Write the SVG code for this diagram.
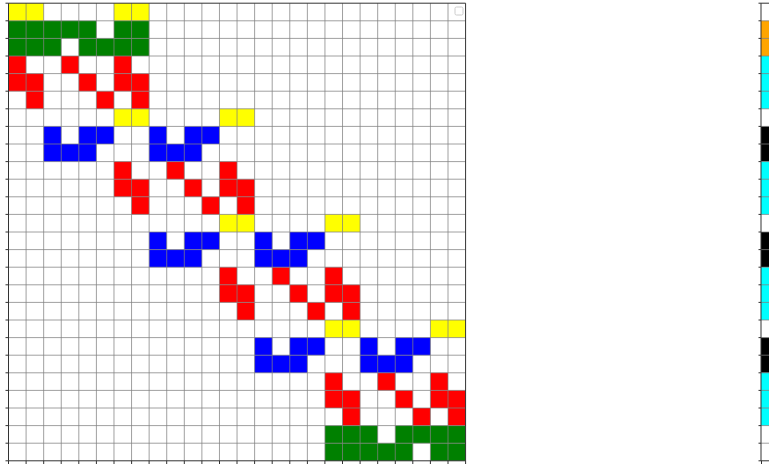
<svg xmlns="http://www.w3.org/2000/svg" width="769" height="467" viewBox="0 0 769 467">
<style>
.y{fill:#ffff00}.g{fill:#008000}.r{fill:#ff0000}.b{fill:#0000ff}.o{fill:#ffa500}.c{fill:#00ffff}.k{fill:#000000}
.grid line{stroke:#808080;stroke-opacity:0.75;stroke-width:1;vector-effect:non-scaling-stroke}
.spine{stroke:#333333;stroke-width:1;fill:none;vector-effect:non-scaling-stroke}
.tick{stroke:#333333;stroke-width:1;vector-effect:non-scaling-stroke}
</style>
<rect width="769" height="467" fill="#ffffff"/>
<g id="board" transform="translate(8.5,3.2) scale(17.58,17.6)">
<g id="cells">
<rect class="y" x="0" y="0" width="2" height="1"/><rect class="y" x="6" y="0" width="2" height="1"/>
<rect class="y" x="6" y="6" width="2" height="1"/><rect class="y" x="12" y="6" width="2" height="1"/>
<rect class="y" x="12" y="12" width="2" height="1"/><rect class="y" x="18" y="12" width="2" height="1"/>
<rect class="y" x="18" y="18" width="2" height="1"/><rect class="y" x="24" y="18" width="2" height="1"/>
<rect class="g" x="0" y="1" width="5" height="1"/><rect class="g" x="6" y="1" width="2" height="1"/>
<rect class="g" x="0" y="2" width="3" height="1"/><rect class="g" x="4" y="2" width="4" height="1"/>
<rect class="g" x="18" y="24" width="3" height="1"/><rect class="g" x="22" y="24" width="4" height="1"/>
<rect class="g" x="18" y="25" width="5" height="1"/><rect class="g" x="24" y="25" width="2" height="1"/>
<g id="red0">
<rect class="r" x="0" y="3" width="1" height="1"/><rect class="r" x="3" y="3" width="1" height="1"/><rect class="r" x="6" y="3" width="1" height="1"/>
<rect class="r" x="0" y="4" width="2" height="1"/><rect class="r" x="4" y="4" width="1" height="1"/><rect class="r" x="6" y="4" width="2" height="1"/>
<rect class="r" x="1" y="5" width="1" height="1"/><rect class="r" x="5" y="5" width="1" height="1"/><rect class="r" x="7" y="5" width="1" height="1"/>
</g>
<g transform="translate(6,6)">
<rect class="r" x="0" y="3" width="1" height="1"/><rect class="r" x="3" y="3" width="1" height="1"/><rect class="r" x="6" y="3" width="1" height="1"/>
<rect class="r" x="0" y="4" width="2" height="1"/><rect class="r" x="4" y="4" width="1" height="1"/><rect class="r" x="6" y="4" width="2" height="1"/>
<rect class="r" x="1" y="5" width="1" height="1"/><rect class="r" x="5" y="5" width="1" height="1"/><rect class="r" x="7" y="5" width="1" height="1"/>
<rect class="b" x="-4" y="1" width="1" height="1"/><rect class="b" x="-2" y="1" width="2" height="1"/><rect class="b" x="2" y="1" width="1" height="1"/><rect class="b" x="4" y="1" width="2" height="1"/>
<rect class="b" x="-4" y="2" width="3" height="1"/><rect class="b" x="2" y="2" width="3" height="1"/>
</g>
<g transform="translate(12,12)">
<rect class="r" x="0" y="3" width="1" height="1"/><rect class="r" x="3" y="3" width="1" height="1"/><rect class="r" x="6" y="3" width="1" height="1"/>
<rect class="r" x="0" y="4" width="2" height="1"/><rect class="r" x="4" y="4" width="1" height="1"/><rect class="r" x="6" y="4" width="2" height="1"/>
<rect class="r" x="1" y="5" width="1" height="1"/><rect class="r" x="5" y="5" width="1" height="1"/><rect class="r" x="7" y="5" width="1" height="1"/>
<rect class="b" x="-4" y="1" width="1" height="1"/><rect class="b" x="-2" y="1" width="2" height="1"/><rect class="b" x="2" y="1" width="1" height="1"/><rect class="b" x="4" y="1" width="2" height="1"/>
<rect class="b" x="-4" y="2" width="3" height="1"/><rect class="b" x="2" y="2" width="3" height="1"/>
</g>
<g transform="translate(18,18)">
<rect class="r" x="0" y="3" width="1" height="1"/><rect class="r" x="3" y="3" width="1" height="1"/><rect class="r" x="6" y="3" width="1" height="1"/>
<rect class="r" x="0" y="4" width="2" height="1"/><rect class="r" x="4" y="4" width="1" height="1"/><rect class="r" x="6" y="4" width="2" height="1"/>
<rect class="r" x="1" y="5" width="1" height="1"/><rect class="r" x="5" y="5" width="1" height="1"/><rect class="r" x="7" y="5" width="1" height="1"/>
<rect class="b" x="-4" y="1" width="1" height="1"/><rect class="b" x="-2" y="1" width="2" height="1"/><rect class="b" x="2" y="1" width="1" height="1"/><rect class="b" x="4" y="1" width="2" height="1"/>
<rect class="b" x="-4" y="2" width="3" height="1"/><rect class="b" x="2" y="2" width="3" height="1"/>
</g>
</g>
<g class="grid">
<line x1="1" y1="0" x2="1" y2="26"/><line x1="2" y1="0" x2="2" y2="26"/><line x1="3" y1="0" x2="3" y2="26"/><line x1="4" y1="0" x2="4" y2="26"/><line x1="5" y1="0" x2="5" y2="26"/><line x1="6" y1="0" x2="6" y2="26"/><line x1="7" y1="0" x2="7" y2="26"/><line x1="8" y1="0" x2="8" y2="26"/><line x1="9" y1="0" x2="9" y2="26"/><line x1="10" y1="0" x2="10" y2="26"/><line x1="11" y1="0" x2="11" y2="26"/><line x1="12" y1="0" x2="12" y2="26"/><line x1="13" y1="0" x2="13" y2="26"/><line x1="14" y1="0" x2="14" y2="26"/><line x1="15" y1="0" x2="15" y2="26"/><line x1="16" y1="0" x2="16" y2="26"/><line x1="17" y1="0" x2="17" y2="26"/><line x1="18" y1="0" x2="18" y2="26"/><line x1="19" y1="0" x2="19" y2="26"/><line x1="20" y1="0" x2="20" y2="26"/><line x1="21" y1="0" x2="21" y2="26"/><line x1="22" y1="0" x2="22" y2="26"/><line x1="23" y1="0" x2="23" y2="26"/><line x1="24" y1="0" x2="24" y2="26"/><line x1="25" y1="0" x2="25" y2="26"/>
<line x1="0" y1="1" x2="26" y2="1"/><line x1="0" y1="2" x2="26" y2="2"/><line x1="0" y1="3" x2="26" y2="3"/><line x1="0" y1="4" x2="26" y2="4"/><line x1="0" y1="5" x2="26" y2="5"/><line x1="0" y1="6" x2="26" y2="6"/><line x1="0" y1="7" x2="26" y2="7"/><line x1="0" y1="8" x2="26" y2="8"/><line x1="0" y1="9" x2="26" y2="9"/><line x1="0" y1="10" x2="26" y2="10"/><line x1="0" y1="11" x2="26" y2="11"/><line x1="0" y1="12" x2="26" y2="12"/><line x1="0" y1="13" x2="26" y2="13"/><line x1="0" y1="14" x2="26" y2="14"/><line x1="0" y1="15" x2="26" y2="15"/><line x1="0" y1="16" x2="26" y2="16"/><line x1="0" y1="17" x2="26" y2="17"/><line x1="0" y1="18" x2="26" y2="18"/><line x1="0" y1="19" x2="26" y2="19"/><line x1="0" y1="20" x2="26" y2="20"/><line x1="0" y1="21" x2="26" y2="21"/><line x1="0" y1="22" x2="26" y2="22"/><line x1="0" y1="23" x2="26" y2="23"/><line x1="0" y1="24" x2="26" y2="24"/><line x1="0" y1="25" x2="26" y2="25"/>
</g>
<rect class="spine" x="0" y="0" width="26" height="26"/>
</g>
<g id="ticks" class="tick">
<path d="M5.5 3.2H8.5M5.5 20.8H8.5M5.5 38.4H8.5M5.5 56H8.5M5.5 73.6H8.5M5.5 91.2H8.5M5.5 108.8H8.5M5.5 126.4H8.5M5.5 144H8.5M5.5 161.6H8.5M5.5 179.2H8.5M5.5 196.8H8.5M5.5 214.4H8.5M5.5 232H8.5M5.5 249.6H8.5M5.5 267.2H8.5M5.5 284.8H8.5M5.5 302.4H8.5M5.5 320H8.5M5.5 337.6H8.5M5.5 355.2H8.5M5.5 372.8H8.5M5.5 390.4H8.5M5.5 408H8.5M5.5 425.6H8.5M5.5 443.2H8.5M5.5 460.8H8.5" stroke="#333"/>
<path d="M8.5 460.8V464M26.1 460.8V464M43.7 460.8V464M61.2 460.8V464M78.8 460.8V464M96.4 460.8V464M114 460.8V464M131.6 460.8V464M149.1 460.8V464M166.7 460.8V464M184.3 460.8V464M201.9 460.8V464M219.5 460.8V464M237 460.8V464M254.6 460.8V464M272.2 460.8V464M289.8 460.8V464M307.4 460.8V464M324.9 460.8V464M342.5 460.8V464M360.1 460.8V464M377.7 460.8V464M395.3 460.8V464M412.8 460.8V464M430.4 460.8V464M448 460.8V464M465.6 460.8V464" stroke="#333"/>
</g>
<rect id="legend" x="455" y="7" width="8" height="8" rx="1.5" fill="#ffffff" stroke="#cccccc" stroke-width="1"/>
<g id="strip" transform="translate(761,3.2) scale(1,17.6)">
<rect class="o" x="0" y="1" width="10" height="2"/>
<rect class="c" x="0" y="3" width="10" height="3"/>
<rect class="k" x="0" y="7" width="10" height="2"/>
<rect class="c" x="0" y="9" width="10" height="3"/>
<rect class="k" x="0" y="13" width="10" height="2"/>
<rect class="c" x="0" y="15" width="10" height="3"/>
<rect class="k" x="0" y="19" width="10" height="2"/>
<rect class="c" x="0" y="21" width="10" height="3"/>
<g class="grid">
<line x1="0" y1="1" x2="10" y2="1"/><line x1="0" y1="2" x2="10" y2="2"/><line x1="0" y1="3" x2="10" y2="3"/><line x1="0" y1="4" x2="10" y2="4"/><line x1="0" y1="5" x2="10" y2="5"/><line x1="0" y1="6" x2="10" y2="6"/><line x1="0" y1="7" x2="10" y2="7"/><line x1="0" y1="8" x2="10" y2="8"/><line x1="0" y1="9" x2="10" y2="9"/><line x1="0" y1="10" x2="10" y2="10"/><line x1="0" y1="11" x2="10" y2="11"/><line x1="0" y1="12" x2="10" y2="12"/><line x1="0" y1="13" x2="10" y2="13"/><line x1="0" y1="14" x2="10" y2="14"/><line x1="0" y1="15" x2="10" y2="15"/><line x1="0" y1="16" x2="10" y2="16"/><line x1="0" y1="17" x2="10" y2="17"/><line x1="0" y1="18" x2="10" y2="18"/><line x1="0" y1="19" x2="10" y2="19"/><line x1="0" y1="20" x2="10" y2="20"/><line x1="0" y1="21" x2="10" y2="21"/><line x1="0" y1="22" x2="10" y2="22"/><line x1="0" y1="23" x2="10" y2="23"/><line x1="0" y1="24" x2="10" y2="24"/><line x1="0" y1="25" x2="10" y2="25"/>
</g>
<path class="spine" d="M10 0H0V26H10"/>
</g>
<path class="tick" d="M758.5 3.2H761M758.5 20.8H761M758.5 38.4H761M758.5 56H761M758.5 73.6H761M758.5 91.2H761M758.5 108.8H761M758.5 126.4H761M758.5 144H761M758.5 161.6H761M758.5 179.2H761M758.5 196.8H761M758.5 214.4H761M758.5 232H761M758.5 249.6H761M758.5 267.2H761M758.5 284.8H761M758.5 302.4H761M758.5 320H761M758.5 337.6H761M758.5 355.2H761M758.5 372.8H761M758.5 390.4H761M758.5 408H761M758.5 425.6H761M758.5 443.2H761M758.5 460.8H761M761.5 460.8V464" stroke="#333"/>
</svg>
